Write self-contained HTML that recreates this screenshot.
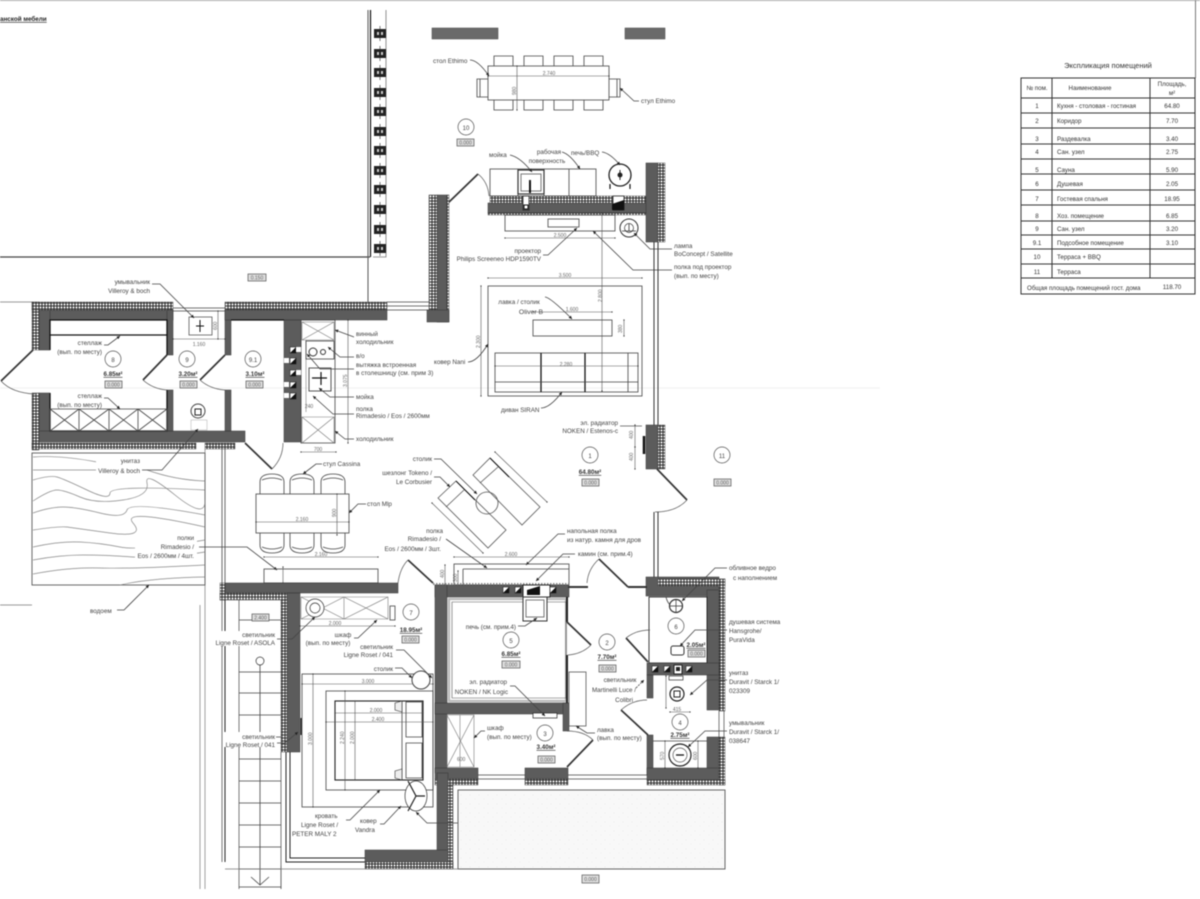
<!DOCTYPE html>
<html><head><meta charset="utf-8"><style>
html,body{margin:0;padding:0;background:#fff;width:1200px;height:899px;overflow:hidden}
svg{display:block;filter:blur(.5px)}
text{font-family:"Liberation Sans",sans-serif;font-size:6.300px;fill:#444}
.m{text-anchor:middle}.e{text-anchor:end}
.b{font-weight:bold;font-size:6.300px;text-decoration:underline;fill:#333}
.s{font-size:5px;fill:#666}
.tb{font-size:6.200px;fill:#333}
.w{fill:#5c5c5c;stroke:#333;stroke-width:.5}
.h{fill:url(#hatch);stroke:#333;stroke-width:.4}
.l{fill:none;stroke:#444;stroke-width:.8}
.x{fill:none;stroke:#777;stroke-width:.6}
.k{fill:none;stroke:#111;stroke-width:1.300}
.dr{fill:none;stroke:#333;stroke-width:1.700}
.a{fill:none;stroke:#555;stroke-width:.7}
.p{fill:none;stroke:#888;stroke-width:.7}
.le{fill:none;stroke:#444;stroke-width:.8;marker-end:url(#ar)}
.d{fill:none;stroke:#555;stroke-width:.6;marker-start:url(#tk);marker-end:url(#tk)}
.tag{fill:#ddd;stroke:#555;stroke-width:.7}
.c{fill:#fff;stroke:#555;stroke-width:.7}
</style></head><body>
<svg width="1200" height="899" viewBox="0 0 1200 899" xmlns="http://www.w3.org/2000/svg">
<defs>
<pattern id="hatch" width="3" height="3" patternUnits="userSpaceOnUse"><rect width="3" height="3" fill="#333"/><circle cx="1.500" cy="1.500" r="1.100" fill="#f2f2f2"/></pattern>
<pattern id="dots" width="9" height="9" patternUnits="userSpaceOnUse"><rect width="9" height="9" fill="#f8f8f8"/><circle cx="2" cy="3" r=".5" fill="#e4e4e4"/><circle cx="7" cy="7" r=".5" fill="#e8e8e8"/></pattern>
<marker id="ar" markerWidth="5" markerHeight="5" refX="4" refY="2" orient="auto"><path d="M0 0L4 2L0 4z" fill="#222"/></marker>
<marker id="tk" markerWidth="4" markerHeight="4" refX="2" refY="2"><circle cx="2" cy="2" r="1.100" fill="#333"/></marker>
<g id="blk"><rect x="374" y="0" width="12" height="9" fill="#222"/><rect x="377" y="3" width="2" height="3" fill="#ccc"/><rect x="381" y="3" width="2" height="3" fill="#ccc"/><path d="M380 -3V12" stroke="#222" stroke-width=".6"/></g>
<g id="sq"><rect width="6" height="6" fill="#fff" stroke="#222" stroke-width=".6"/><path d="M6 0V6H0z" fill="#111"/></g>
</defs>
<rect width="1200" height="899" fill="#fff"/>
<path d="M0 .5H1200" stroke="#aaa" stroke-width="1"/>
<path d="M1195.500 0V78" stroke="#777" stroke-width="1"/>
<path d="M0 388H880" stroke="#f0f0f0" stroke-width="1"/>
<text x="0" y="21" style="font-size:6.300px;font-weight:bold;text-decoration:underline;fill:#222">анской мебели</text>

<!-- top-left site -->
<path d="M0 257H370" stroke="#444" stroke-width="1.200"/>
<path d="M368 10V302" stroke="#555" stroke-width="1"/>
<path d="M370.500 10V257" stroke="#111" stroke-width="1.200"/>
<path d="M386 10V257H373" stroke="#777" stroke-width=".8" fill="none"/>
<use href="#blk" y="29"/><use href="#blk" y="49"/><use href="#blk" y="68"/><use href="#blk" y="88"/><use href="#blk" y="107"/><use href="#blk" y="127"/><use href="#blk" y="146"/><use href="#blk" y="166"/><use href="#blk" y="185"/><use href="#blk" y="205"/><use href="#blk" y="225"/><use href="#blk" y="244"/>
<path d="M0 302H32M0 605H32" stroke="#777" stroke-width=".8"/>
<rect class="tag" x="248" y="274" width="18" height="7"/><text class="s m" x="257" y="279.500">0.150</text>

<!-- outdoor rects -->
<rect x="432" y="28" width="66" height="11" fill="#6a6a6a" stroke="#444" stroke-width=".5"/>
<rect x="625" y="28" width="40" height="11" fill="#6a6a6a" stroke="#444" stroke-width=".5"/>

<!-- outdoor table -->
<rect x="488" y="66" width="121" height="34" class="l"/>
<path class="l" d="M494 66V56H513V66M524 66V56H543V66M554 66V56H573V66M584 66V56H603V66"/>
<path class="l" d="M494 100V110H513V100M524 100V110H543V100M554 100V110H573V100M584 100V110H603V100"/>
<path class="l" d="M488 79H477V97H488M609 79H620V97H609M480 79V97M617 79V97"/>
<path class="d" d="M488 76H609"/><text class="s m" x="549" y="75">2.740</text>
<path class="d" d="M517 66V110"/><text class="s" transform="translate(516,95) rotate(-90)">980</text>
<text x="433" y="63">стол Ethimo</text><path class="le" d="M470 60Q478 60 489 76"/>
<text x="641" y="103">стул Ethimo</text><path class="le" d="M639 101H634L620 88"/>
<circle class="c" cx="466" cy="127" r="8"/><text class="m" x="466" y="130" style="font-size:6px">10</text>
<rect class="tag" x="457" y="139" width="17" height="7"/><text class="s m" x="465.500" y="144.500">0.000</text>

<!-- terrace BBQ wall -->
<rect class="w" x="488" y="203" width="160" height="10"/>
<rect class="h" x="490" y="196" width="156" height="7"/>
<rect class="h" x="488" y="213" width="160" height="2"/>
<rect class="w" x="646" y="163" width="12" height="79"/>
<rect class="h" x="658" y="163" width="7" height="79"/>
<rect x="490" y="169" width="106" height="27" class="l"/>
<path class="l" d="M518 169V196M544 169V196M569 169V196"/>
<rect x="518" y="170" width="26" height="24" fill="#fff" stroke="#333" stroke-width="1.200"/>
<rect x="521" y="174" width="20" height="17" fill="#fff" stroke="#777" stroke-width="1"/>
<path d="M530 180V193" stroke="#111" stroke-width="2"/><circle cx="530" cy="181" r="1" fill="#222"/>
<rect x="523" y="196" width="6" height="14" fill="#fff" stroke="#111" stroke-width=".7"/><rect x="524" y="205" width="4" height="4" fill="#fff" stroke="#111"/>
<rect x="613" y="196" width="11" height="14" fill="#fff" stroke="#111" stroke-width=".7"/><path d="M612 210V204L624 200V210z" fill="#111"/>
<circle cx="620" cy="175" r="11" fill="#fff" stroke="#222" stroke-width="1.300"/><circle cx="620" cy="175" r="2.500" fill="#222"/><path d="M620 170V180" stroke="#222"/>
<path d="M610 184V189M630 184V189" stroke="#111" stroke-width="1.200"/>
<path class="dr" d="M448 203L478 174"/><path class="a" d="M478 174Q488 182 489 196"/>
<rect class="w" x="437" y="195" width="10" height="127"/>
<rect class="h" x="429" y="195" width="8" height="115"/>
<rect class="h" x="447" y="195" width="2" height="127"/>
<rect class="w" x="427" y="310" width="22" height="12"/>
<path d="M387 302H430M387 306H430M387 310H430" stroke="#444" stroke-width=".7"/>

<!-- shelf and lamp -->
<rect class="l" x="505" y="215" width="110" height="16"/>
<rect class="l" x="548" y="219" width="31" height="8"/>
<path class="d" d="M505 238H615"/><text class="s m" x="560" y="237">2.500</text>
<circle cx="629" cy="228" r="9" fill="#fff" stroke="#333"/><circle cx="629" cy="228" r="4.500" fill="none" stroke="#333" stroke-width=".7"/><path d="M622 231H636M629 224V231" stroke="#333" stroke-width=".8"/>
<text x="489" y="157">мойка</text><path class="le" d="M510 155Q520 157 532 172"/>
<text class="m" x="549" y="154">рабочая</text><text class="m" x="547" y="163">поверхность</text><path class="le" d="M562 152Q570 154 580 169"/>
<text x="571" y="155">печь/BBQ</text><path class="le" d="M602 152Q610 153 620 165"/>
<text class="e" x="541" y="253">проектор</text><text class="e" x="541" y="261">Philips Screeneo HDP1590TV</text><path class="le" d="M543 255H548L577 228"/>
<text x="674" y="248">лампа</text><text x="674" y="256">BoConcept / Satellite</text><path class="le" d="M672 249H650L634 233"/>
<text x="674" y="269">полка под проектор</text><text x="674" y="278">(вып. по месту)</text><path class="le" d="M672 270H633L593 231"/>

<!-- long dim + window -->
<path class="d" d="M602 213V391"/><text class="s" transform="translate(602,302) rotate(-90)">2.800</text>
<path d="M654 242V425M658 242V425" stroke="#333" stroke-width="1"/>

<!-- rug + sofa -->
<rect class="l" x="488" y="286" width="154" height="110"/>
<path class="d" d="M488 278H642"/><text class="s m" x="565" y="277">3.500</text>
<path class="d" d="M481 286V396"/><text class="s" transform="translate(480,348) rotate(-90)">2.300</text>
<rect class="l" x="533" y="320" width="79" height="16"/>
<path class="d" d="M533 312H612"/><text class="s m" x="572" y="311">1.600</text>
<path class="d" d="M624 320V336"/><text class="s" transform="translate(622,333) rotate(-90)">380</text>
<rect class="l" x="495" y="353" width="143" height="39"/>
<path class="k" d="M541 353V392M585 353V392"/>
<path class="l" d="M495 382H638M628 353V392"/>
<path class="d" d="M495 366H638"/><text class="s m" x="566" y="366">2.280</text>
<text class="m" x="519" y="304">лавка / столик</text><text class="m" x="531" y="314" style="font-size:6.800px">Oliver B</text><path class="le" d="M545 297Q550 297 572 319"/>
<text x="434" y="364">ковер Nani</text><path class="le" d="M468 362Q477 362 488 344"/>
<text x="501" y="412">диван SIRAN</text><path class="le" d="M541 408Q550 408 562 392"/>
<text class="e" x="618" y="425">эл. радиатор</text><text class="e" x="618" y="433">NOKEN / Estenos-c</text><path class="a" d="M620 426H642"/>

<!-- east block, door -->
<rect class="w" x="646" y="425" width="12" height="44"/>
<rect class="h" x="658" y="425" width="7" height="44"/>
<path d="M644 436V454" stroke="#111" stroke-width="2.500"/>
<path class="d" d="M635 425V447"/><path class="d" d="M635 447V469"/>
<text class="s" transform="translate(633,439) rotate(-90)">400</text><text class="s" transform="translate(633,461) rotate(-90)">400</text>
<path class="dr" d="M657 469L687 500"/><path class="a" d="M687 500Q676 512 655 512"/>
<path d="M654 512V578M658 512V578" stroke="#333" stroke-width="1"/>
<circle class="c" cx="590" cy="455" r="8"/><text class="m" x="590" y="458" style="font-size:6px">1</text>
<text class="b m" x="590" y="474">64.80м²</text>
<rect class="tag" x="582" y="479" width="17" height="7"/><text class="s m" x="590.500" y="484.500">0.000</text>
<circle class="c" cx="722" cy="455" r="8"/><text class="m" x="722" y="458" style="font-size:6px">11</text>
<rect class="tag" x="714" y="479" width="17" height="7"/><text class="s m" x="722.500" y="484.500">0.000</text>

<!-- north-west rooms -->
<rect class="w" x="39" y="310" width="134" height="10"/>
<rect class="w" x="39" y="310" width="11" height="40"/>
<rect class="h" x="32" y="302" width="7" height="48"/>
<rect class="h" x="32" y="302" width="141" height="8"/>
<rect class="w" x="39" y="393" width="11" height="47"/>
<rect class="h" x="32" y="393" width="7" height="57"/>
<rect class="w" x="39" y="431" width="206" height="11"/>
<rect class="h" x="32" y="443" width="164" height="6"/>
<rect class="h" x="205" y="443" width="30" height="6"/>
<rect class="w" x="167" y="310" width="6" height="45"/>
<rect class="w" x="167" y="390" width="6" height="41"/>
<rect class="w" x="225" y="310" width="6" height="45"/>
<rect class="w" x="225" y="390" width="6" height="41"/>
<rect class="h" x="225" y="302" width="162" height="8"/>
<rect class="w" x="225" y="310" width="162" height="10"/>
<rect class="w" x="284" y="320" width="17" height="122"/>
<path class="k" d="M50 350V320H167V355M167 390V431H50V393M231 320H284"/>
<path class="k" d="M50 335H167"/>
<path d="M173 308H225M173 311H225" stroke="#444" stroke-width=".7"/>
<path class="l" d="M50 409H167V431H50zM79 409V431M109 409V431M138 409V431M50 409L79 431M79 409L50 431M79 409L109 431M109 409L79 431M109 409L138 431M138 409L109 431M138 409L167 431M167 409L138 431"/>
<path class="dr" d="M33 350L1 381"/><path class="a" d="M1 381Q12 393 35 394"/>
<path class="dr" d="M167 355L143 380"/><path class="a" d="M143 380Q153 389 167 390"/>
<path class="dr" d="M225 355L200 380"/><path class="a" d="M200 380Q210 389 225 390"/>
<path class="dr" d="M245 443L272 469"/><path class="a" d="M272 469Q283 458 283 443"/>
<rect x="189" y="317" width="23" height="18" fill="#fff" stroke="#444" stroke-width=".7"/><path d="M200 320V332M196 326H204" stroke="#111" stroke-width="1"/>
<path class="d" d="M173 339H225"/><text class="s m" x="199" y="346">1.160</text>
<path class="d" d="M218 311V339"/><text class="s" transform="translate(217,330) rotate(-90)">600</text>
<circle cx="198" cy="411" r="7" fill="#fff" stroke="#444"/><rect x="195" y="409" width="6" height="6" fill="#fff" stroke="#222"/><rect x="191" y="420" width="16" height="10" fill="#fff" stroke="#aaa" stroke-width=".5"/>
<circle class="c" cx="113" cy="359" r="8"/><text class="m" x="113" y="362" style="font-size:6px">8</text>
<text class="b m" x="113" y="376">6.85м²</text><rect class="tag" x="105" y="381" width="17" height="7"/><text class="s m" x="113.500" y="386.500">0.000</text>
<circle class="c" cx="187" cy="359" r="8"/><text class="m" x="187" y="362" style="font-size:6px">9</text>
<text class="b m" x="188" y="376">3.20м²</text><rect class="tag" x="180" y="381" width="17" height="7"/><text class="s m" x="188.500" y="386.500">0.000</text>
<circle class="c" cx="253" cy="359" r="8"/><text class="m" x="253" y="362" style="font-size:6px">9.1</text>
<text class="b m" x="255" y="376">3.10м²</text><rect class="tag" x="246" y="381" width="17" height="7"/><text class="s m" x="254.500" y="386.500">0.000</text>
<text class="e" x="102" y="345">стеллаж</text><text class="e" x="102" y="354">(вып. по месту)</text><path class="le" d="M104 345H108L120 336"/>
<text class="e" x="102" y="398">стеллаж</text><text class="e" x="102" y="407">(вып. по месту)</text><path class="le" d="M104 398H108L120 409"/>
<text class="e" x="150" y="284">умывальник</text><text class="e" x="150" y="293">Villeroy &amp; boch</text><path class="le" d="M152 284H160L194 318"/>

<!-- kitchen -->
<rect class="l" x="301" y="320" width="34" height="123"/>
<path class="x" d="M302 322H334V340H302zM302 322L334 340M334 322L302 340"/>
<path class="x" d="M302 417H334V443H302zM302 417L334 443M334 417L302 443"/>
<path class="x" d="M306 340V412"/>
<rect class="l" x="306" y="341" width="28" height="18"/><circle cx="313" cy="352" r="4" fill="#fff" stroke="#333"/><circle cx="323" cy="352" r="2.500" fill="#fff" stroke="#333"/>
<rect x="309" y="368" width="22" height="23" fill="#fff" stroke="#555"/><path d="M312 378H327M321 372V385" stroke="#111" stroke-width="1.200"/>
<use href="#sq" x="290" y="347"/><use href="#sq" x="290" y="358"/><use href="#sq" x="290" y="370"/><use href="#sq" x="290" y="382"/><use href="#sq" x="290" y="393"/>
<rect x="284" y="358" width="5" height="5" fill="#fff"/><rect x="284" y="382" width="5" height="5" fill="#fff"/><rect x="284" y="393" width="5" height="5" fill="#fff"/><rect x="296" y="347" width="5" height="5" fill="#fff"/><rect x="296" y="370" width="5" height="5" fill="#fff"/>
<path class="d" d="M348 320V443"/><text class="s" transform="translate(347,387) rotate(-90)">3.075</text>
<path class="d" d="M301 452H336"/><text class="s m" x="318" y="451">700</text>
<text class="s m" x="309" y="408">240</text>
<text x="356" y="336">винный</text><text x="356" y="344">холодильник</text><path class="le" d="M354 337L335 330"/>
<text x="356" y="358">в/о</text><path class="le" d="M354 357H340L328 347"/>
<text x="356" y="367">вытяжка встроенная</text><text x="356" y="375">в столешницу (см. прим 3)</text><path class="le" d="M354 369H320L307 354"/>
<text x="356" y="399">мойка</text><path class="le" d="M354 397H330L319 388"/>
<text x="356" y="411">полка</text><text x="356" y="418">Rimadesio / Eos / 2600мм</text><path class="le" d="M354 414H333L313 396"/>
<text x="356" y="441">холодильник</text><path class="le" d="M354 439H345L335 431"/>

<!-- pool -->
<rect x="32" y="453" width="173" height="132" fill="#fff" stroke="#444" stroke-width=".8"/>
<path class="p" d="M33 457Q60 455 97 462"/>
<path class="p" d="M33 470H97"/>
<path class="p" d="M147 470Q175 480 205 481"/>
<path class="p" d="M33 480Q50 475 57 477T87 490T110 493T205 490"/>
<path class="p" d="M33 501Q50 490 57 490T80 497T123 500T147 483T175 495T205 500"/>
<path class="p" d="M33 513Q50 507 63 507T100 513T127 510T205 515"/>
<path class="p" d="M33 530Q60 526 67 527T110 533T133 523T205 527"/>
<path class="p" d="M33 547Q60 541 80 542T120 547T205 540"/>
<path class="p" d="M33 560Q60 555 83 555T133 557T205 552"/>
<path class="p" d="M33 574Q70 567 100 568T205 565"/>
<path class="p" d="M120 585Q150 578 205 577"/>
<text x="90" y="613">водоем</text><path class="le" d="M117 610H124L149 585"/>
<path d="M205 449V889M200 605V889" stroke="#666" stroke-width=".6"/>
<path class="l" d="M222 449V583M225 449V583"/>
<rect x="96" y="456" width="46" height="19" fill="#fff"/>
<text class="e" x="140" y="463">унитаз</text><text class="e" x="140" y="473">Villeroy &amp; boch</text><path class="le" d="M142 470H162L198 429"/>
<rect x="135" y="533" width="62" height="26" fill="#fff"/>
<text class="e" x="194" y="540">полки</text><text class="e" x="194" y="549">Rimadesio /</text><text class="e" x="194" y="558">Eos / 2600мм / 4шт.</text>
<path class="le" d="M199 547H247L277 570"/>
<text x="323" y="466">стул Cassina</text><path class="le" d="M322 464H316L303 474"/>
<text x="367" y="506">стол Mlp</text><path class="le" d="M366 504H358L349 513"/>

<!-- dining -->
<g fill="#fff" stroke="#444" stroke-width=".8">
<path d="M260 494V482Q260 474 272 474T284 482V494"/><path d="M290 494V482Q290 474 302 474T314 482V494"/><path d="M321 494V482Q321 474 333 474T345 482V494"/>
<path d="M260 533V545Q260 553 272 553T284 545V533"/><path d="M290 533V545Q290 553 302 553T314 545V533"/><path d="M321 533V545Q321 553 333 553T345 545V533"/>
<path d="M262 480Q272 476 282 480M292 480Q302 476 312 480M323 480Q333 476 343 480M262 547Q272 551 282 547M292 547Q302 551 312 547M323 547Q333 551 343 547" fill="none"/>
<rect x="256" y="494" width="93" height="39"/>
</g>
<path class="d" d="M256 522H349"/><text class="s m" x="302" y="521">2.160</text>
<path class="d" d="M337 494V535"/><text class="s" transform="translate(336,517) rotate(-90)">900</text>
<path class="d" d="M264 557H378"/><text class="s m" x="321" y="556">2.160</text>
<rect class="l" x="264" y="569" width="114" height="14"/>
<path class="d" d="M283 567V583"/>

<!-- chaises -->
<g fill="#fff" stroke="#555" stroke-width=".8">
<path d="M473 475L490 458L540 507L522 525z"/><path d="M480 483L498 467" fill="none"/>
<path d="M438 498L456 481L506 530L488 548z"/><path d="M446 507L464 490" fill="none"/>
<circle cx="487" cy="503" r="11" fill="none"/>
</g>
<path d="M490 458L509 477M456 481L475 500" stroke="#111" stroke-width="1"/>
<path class="d" d="M495 452L547 502"/><path class="d" d="M432 503L483 553"/>
<text class="e" x="432" y="461">столик</text><path class="le" d="M434 459H441L477 494"/>
<text class="e" x="432" y="475">шезлонг Tokeno /</text><text class="e" x="432" y="484">Le Corbusier</text><path class="le" d="M434 477H440L450 487"/>
<text class="e" x="443" y="533">полка</text><text class="e" x="441" y="541">Rimadesio /</text><text class="e" x="441" y="551">Eos / 2600мм / 3шт.</text><path class="le" d="M446 539L487 568"/>
<text x="567" y="533">напольная полка</text><text x="567" y="542">из натур. камня для дров</text><path class="le" d="M565 534H558L526 565"/>
<text x="578" y="556">камин (см. прим.4)</text><path class="le" d="M575 554H563L536 581"/>

<!-- shelf above sauna -->
<rect class="l" x="454" y="564" width="115" height="21"/>
<path class="l" d="M463 569H569M463 569V585"/>
<path class="d" d="M454 557H569"/><text class="s m" x="511" y="556">2.600</text>
<path class="d" d="M445 565V584"/><text class="s" transform="translate(444,578) rotate(-90)">400</text>
<path class="d" d="M458 571V584"/><text class="s" transform="translate(457,582) rotate(-90)">300</text>

<!-- sauna + room 3 walls -->
<rect class="w" x="435" y="585" width="134" height="12"/>
<rect class="w" x="435" y="585" width="12" height="188"/>
<rect class="w" x="435" y="703" width="134" height="11"/>
<rect class="w" x="563" y="703" width="6" height="28"/>
<rect class="w" x="435" y="768" width="43" height="11"/>
<path fill="none" stroke="#bbb" stroke-width="2.200" d="M449 599H566V701H449z"/>
<path fill="none" stroke="#555" stroke-width=".6" d="M452 602H566V698H452z"/>
<path d="M433 584H569" stroke="#888" stroke-dasharray="1.500 1.500" stroke-width="2"/>
<path d="M567 597V622M567 655V703" stroke="#222" stroke-width="2"/>
<use href="#sq" x="503" y="587"/><use href="#sq" x="515" y="587"/><rect x="523" y="585" width="27" height="12" fill="#fff" stroke="#222"/><path d="M527 595V590L540 586V595z" fill="#111"/><use href="#sq" x="550" y="587"/>
<rect x="523" y="597" width="24" height="24" fill="#fff" stroke="#333" stroke-width="1"/><rect x="526" y="600" width="18" height="17" fill="#fff" stroke="#777"/>
<rect class="h" x="435" y="779" width="43" height="6"/>
<rect class="w" x="525" y="768" width="43" height="11"/><rect class="h" x="525" y="779" width="43" height="6"/>
<path d="M478 775H525M478 779H525M568 775H647M568 779H647" stroke="#444" stroke-width=".7"/>
<path class="dr" d="M567 622L591 645"/><path class="a" d="M591 645Q582 654 568 655"/>
<path class="dr" d="M567 767L593 740"/><path class="a" d="M593 740Q584 731 567 731"/>
<rect x="569" y="672" width="17" height="54" fill="#fff" stroke="#555" stroke-width=".8"/>
<rect x="533" y="713" width="24" height="5" fill="#fff" stroke="#222" stroke-width=".7"/>
<path class="x" d="M447 715H474V767H447zM447 715L474 767M474 715L447 767M460 715V767"/>
<text class="s" x="457" y="761">600</text>
<circle class="c" cx="511" cy="640" r="8"/><text class="m" x="511" y="643" style="font-size:6px">5</text>
<text class="b m" x="511" y="656">6.85м²</text><rect class="tag" x="502" y="661" width="18" height="7"/><text class="s m" x="511" y="666.500">0.000</text>
<circle class="c" cx="545" cy="733" r="8"/><text class="m" x="545" y="736" style="font-size:6px">3</text>
<text class="b m" x="546" y="749">3.40м²</text><rect class="tag" x="538" y="756" width="17" height="7"/><text class="s m" x="546.500" y="761.500">0.000</text>
<circle class="c" cx="607" cy="642" r="8"/><text class="m" x="607" y="645" style="font-size:6px">2</text>
<text class="b m" x="607" y="659">7.70м²</text><rect class="tag" x="599" y="665" width="17" height="7"/><text class="s m" x="607.500" y="670.500">0.000</text>
<text class="e" x="516" y="629">печь (см. прим.4)</text><path class="le" d="M518 626H525L537 618"/>
<text class="e" x="507" y="684">эл. радиатор</text><text class="e" x="508" y="694">NOKEN / NK Logic</text><path class="le" d="M510 686H515L545 716"/>
<text x="487" y="730">шкаф</text><text x="487" y="739">(вып. по месту)</text><path class="le" d="M485 731H481L474 738"/>
<text x="597" y="732">лавка</text><text x="597" y="740">(вып. по месту)</text><path class="le" d="M595 733H587L576 726"/>
<text class="m" x="620" y="682">светильник</text><text class="m" x="614" y="692">Martinelli Luce /</text><text class="e" x="633" y="702">Colibri</text><path class="le" d="M636 688L644 680" stroke-dasharray="2 1"/>

<!-- SE bathrooms -->
<rect class="w" x="646" y="577" width="73" height="19"/>
<rect class="h" x="658" y="579" width="67" height="7"/>
<rect class="h" x="719" y="579" width="6" height="132"/>
<rect class="w" x="707" y="590" width="12" height="120"/>
<rect x="649" y="597" width="58" height="66" fill="#fff" stroke="#111" stroke-width=".8"/>
<rect class="w" x="647" y="663" width="72" height="12"/>
<rect class="w" x="647" y="675" width="6" height="23"/>
<rect class="w" x="647" y="735" width="6" height="40"/>
<rect class="w" x="707" y="737" width="12" height="42"/>
<rect class="w" x="647" y="768" width="72" height="12"/>
<rect class="h" x="719" y="737" width="6" height="48"/>
<rect class="h" x="647" y="780" width="78" height="5"/>
<path d="M719 711V737M724 711V737" stroke="#444" stroke-width=".7"/>
<path d="M666 597Q668 606 676 608" class="l"/><circle cx="676" cy="606" r="6.500" fill="#fff" stroke="#333" stroke-width="1.200"/><path d="M669 606H683M676 599V613" stroke="#333" stroke-width=".7"/>
<circle class="c" cx="676" cy="626" r="8"/><text class="m" x="676" y="629" style="font-size:6px">6</text>
<rect x="671" y="646" width="13" height="9" rx="2" fill="#fff" stroke="#333"/>
<text class="b m" x="696" y="647">2.05м²</text><rect class="tag" x="688" y="650" width="17" height="7"/><text class="s m" x="696.500" y="655.500">0.000</text>
<use href="#sq" x="652" y="666"/><use href="#sq" x="664" y="666"/><rect x="674" y="665" width="8" height="9" fill="#fff" stroke="#222"/><rect x="676" y="667" width="4" height="4" fill="#222"/><use href="#sq" x="686" y="666"/>
<rect x="669" y="676" width="14" height="4" fill="#fff" stroke="#333" stroke-width=".7"/>
<circle cx="677" cy="694" r="7" fill="#fff" stroke="#222" stroke-width="1.200"/><rect x="674" y="691" width="6" height="6" fill="#fff" stroke="#222"/>
<path class="d" d="M670 712H690"/><text class="s m" x="677" y="711">415</text><path class="d" d="M666 676V708"/>
<circle class="c" cx="680" cy="722" r="8"/><text class="m" x="680" y="725" style="font-size:6px">4</text>
<text class="b m" x="680" y="737">2.75м²</text>
<path class="l" d="M653 741H707"/>
<circle cx="680" cy="755" r="11" fill="#fff" stroke="#222" stroke-width="1.200"/><circle cx="680" cy="755" r="7" fill="none" stroke="#555" stroke-width=".7"/><path d="M676 755H684" stroke="#111" stroke-width="1.300"/>
<path class="d" d="M665 741V768"/><path class="d" d="M698 741V768"/>
<text class="s" transform="translate(664,760) rotate(-90)">570</text><text class="s" transform="translate(697,760) rotate(-90)">600</text>
<path class="dr" d="M648 662L626 638"/><path class="a" d="M626 638Q636 630 650 630"/>
<path class="dr" d="M648 735L621 710"/><path class="a" d="M621 710Q632 700 647 700"/>
<path d="M568 587H588M628 587H647" stroke="#333" stroke-width="2"/>
<path class="dr" d="M628 587L599 559"/><path class="a" d="M599 559Q588 569 587 583"/>
<text x="729" y="570">обливное ведро</text><text x="733" y="580">с наполнением</text><path class="le" d="M727 568H715L682 601"/>
<text x="729" y="624">душевая система</text><text x="729" y="633">Hansgrohe/</text><text x="729" y="642">PuraVida</text><path class="le" d="M727 630H695L680 646"/>
<text x="729" y="675">унитаз</text><text x="729" y="684">Duravit / Starck 1/</text><text x="729" y="693">023309</text><path class="le" d="M727 680H707L690 695"/>
<text x="729" y="725">умывальник</text><text x="729" y="734">Duravit / Starck 1/</text><text x="729" y="743">038647</text><path class="le" d="M727 731H705L688 747"/>

<!-- corridor door to room 7 -->
<path class="dr" d="M433 583L408 560"/><path class="a" d="M408 560Q400 568 398 583"/>

<!-- bedroom -->
<rect class="w" x="225" y="583" width="173" height="10"/>
<rect class="h" x="220" y="583" width="5" height="17"/>
<rect class="h" x="220" y="593" width="67" height="7"/>
<rect class="w" x="287" y="593" width="13" height="159"/>
<rect class="h" x="281" y="600" width="6" height="152"/>
<rect class="w" x="437" y="773" width="11" height="89"/>
<rect class="h" x="448" y="785" width="5" height="84"/>
<rect class="w" x="365" y="850" width="83" height="12"/>
<rect class="h" x="365" y="862" width="88" height="7"/>
<path d="M301 718V735" stroke="#111" stroke-width="1"/>
<path d="M286 752V862H365M290 752V858H365" fill="none" stroke="#222" stroke-width="1"/>
<path d="M225 600V862" stroke="#222" stroke-width="1"/><path d="M222 600V862" stroke="#555" stroke-width=".8"/><path d="M239 600V889M281 752V866" stroke="#444" stroke-width=".7"/>
<path class="l" d="M239 620H281"/>
<path class="l" d="M239 672H281M239 693H281M239 715H281M239 737H281M239 759H281M239 781H281M239 803H281M239 825H281M239 847H281M239 869H281M239 887H281M281 866V889"/>
<path class="l" d="M260 665V885M251 877L260 885L269 877"/><circle cx="260" cy="661" r="4" fill="#fff" stroke="#333" stroke-width=".7"/>
<rect x="252" y="614" width="17" height="7" class="tag"/><text class="s m" x="260.500" y="619.500">2.400</text>
<path class="x" d="M301 597H388V619H301zM344 597V619M301 597L344 619M344 597L301 619M344 597L388 619M388 597L344 619"/>
<circle cx="315" cy="608" r="9" fill="#fff" stroke="#333" stroke-width=".7"/><circle cx="315" cy="608" r="5" fill="none" stroke="#333" stroke-width=".7"/>
<rect x="390" y="606" width="5" height="14" class="l"/>
<path class="d" d="M300 626H395"/><text class="s m" x="335" y="625">2.000</text>
<circle class="c" cx="411" cy="612" r="8"/><text class="m" x="411" y="615" style="font-size:6px">7</text>
<text class="b m" x="411" y="632">18.95м²</text><rect class="tag" x="402" y="636" width="17" height="7"/><text class="s m" x="410.500" y="641.500">0.000</text>
<rect class="l" x="302" y="674" width="131" height="133"/>
<path class="d" d="M302 684H433"/><text class="s m" x="368" y="683">3.000</text>
<path class="d" d="M313 674V807"/><text class="s" transform="translate(312,745) rotate(-90)">3.000</text>
<rect class="l" x="326" y="691" width="107" height="99"/>
<rect x="335" y="701" width="88" height="79" fill="#fff" stroke="#222" stroke-width="1.100"/>
<path class="l" d="M402 701V780M406 702H422V737H406zM406 743H422V778H406z"/>
<path d="M395 703V710L402 712V701zM395 778V771L402 769V780z" fill="#eee" stroke="#333" stroke-width=".6"/>
<path class="d" d="M335 713H423"/><text class="s m" x="376" y="712">2.000</text>
<path class="d" d="M326 722H433"/><text class="s m" x="378" y="721">2.400</text>
<path class="d" d="M345 691V790"/><path class="d" d="M355 701V780"/>
<text class="s" transform="translate(344,744) rotate(-90)">2.240</text><text class="s" transform="translate(354,744) rotate(-90)">2.000</text>
<circle cx="421" cy="680" r="9" fill="#fff" stroke="#444"/>
<ellipse cx="416" cy="796" rx="11" ry="15" fill="#fff" stroke="#333" stroke-width=".7"/><path d="M408 781L416 796H425M416 796L408 811" fill="none" stroke="#222" stroke-width="1.200"/>
<rect x="212" y="631" width="64" height="15" fill="#fff"/>
<text class="e" x="275" y="637">светильник</text><text class="e" x="275" y="645">Ligne Roset / ASOLA</text><path class="le" d="M277 639H292L315 617"/>
<text class="m" x="343" y="637">шкаф</text><text class="m" x="328" y="645">(вып. по месту)</text><path class="le" d="M354 638H358L377 620"/>
<text class="e" x="393" y="649">светильник</text><text class="e" x="393" y="657">Ligne Roset / 041</text><path class="le" d="M396 650H404L432 678"/>
<text class="e" x="393" y="671">столик</text><path class="le" d="M395 668H402L412 678"/>
<rect x="223" y="732" width="53" height="15" fill="#fff"/>
<text class="e" x="275" y="739">светильник</text><text class="e" x="275" y="747">Ligne Roset / 041</text><path class="le" d="M277 743H285L298 732"/>
<text x="315" y="818">кровать</text><text x="301" y="827">Ligne Roset /</text><text x="292" y="836">PETER MALY 2</text><path class="le" d="M346 820H350L380 790"/>
<text x="360" y="823">ковер</text><text x="355" y="832">Vandra</text><path class="le" d="M380 824H384L401 806"/>
<text x="466" y="820">светильник</text><text x="466" y="829">Ligne Roset / SOLVEIG</text><path class="le" d="M464 823H427L416 812"/>

<!-- south terrace -->
<rect x="458" y="790" width="267" height="79" fill="url(#dots)" stroke="#666" stroke-width="1"/>
<path d="M225 869H458" stroke="#777" stroke-width=".7"/>
<rect class="tag" x="582" y="875" width="17" height="8"/><text class="s m" x="590.500" y="881">0.000</text>

<!-- table -->
<text class="m" x="1108" y="68" style="font-size:7.500px;fill:#333">Экспликация помещений</text>
<g fill="none" stroke="#333" stroke-width="1">
<rect x="1021" y="78" width="174" height="216"/>
<path d="M1021 98H1195M1021 113H1195M1021 128H1195M1021 144H1195M1021 159H1195M1021 174H1195M1021 190H1195M1021 205H1195M1021 221H1195M1021 235H1195M1021 249H1195M1021 264H1195M1021 278H1195"/>
<path d="M1052 78V278M1150 78V278"/>
</g>
<text class="tb m" x="1037" y="90">№ пом.</text><text class="tb m" x="1090" y="90">Наименование</text><text class="tb m" x="1172" y="86">Площадь,</text><text class="tb m" x="1172" y="95">м²</text>
<text class="tb m" x="1037" y="108">1</text><text class="tb" x="1057" y="108">Кухня - столовая - гостиная</text><text class="tb m" x="1172" y="108">64.80</text>
<text class="tb m" x="1037" y="123">2</text><text class="tb" x="1057" y="123">Коридор</text><text class="tb m" x="1172" y="123">7.70</text>
<text class="tb m" x="1037" y="141">3</text><text class="tb" x="1057" y="141">Раздевалка</text><text class="tb m" x="1172" y="141">3.40</text>
<text class="tb m" x="1037" y="154">4</text><text class="tb" x="1057" y="154">Сан. узел</text><text class="tb m" x="1172" y="154">2.75</text>
<text class="tb m" x="1037" y="172">5</text><text class="tb" x="1057" y="172">Сауна</text><text class="tb m" x="1172" y="172">5.90</text>
<text class="tb m" x="1037" y="186">6</text><text class="tb" x="1057" y="186">Душевая</text><text class="tb m" x="1172" y="186">2.05</text>
<text class="tb m" x="1037" y="201">7</text><text class="tb" x="1057" y="201">Гостевая спальня</text><text class="tb m" x="1172" y="201">18.95</text>
<text class="tb m" x="1037" y="218">8</text><text class="tb" x="1057" y="218">Хоз. помещение</text><text class="tb m" x="1172" y="218">6.85</text>
<text class="tb m" x="1037" y="231">9</text><text class="tb" x="1057" y="231">Сан. узел</text><text class="tb m" x="1172" y="231">3.20</text>
<text class="tb m" x="1037" y="245">9.1</text><text class="tb" x="1057" y="245">Подсобное помещение</text><text class="tb m" x="1172" y="245">3.10</text>
<text class="tb m" x="1037" y="259">10</text><text class="tb" x="1057" y="259">Терраса + BBQ</text>
<text class="tb m" x="1037" y="274">11</text><text class="tb" x="1057" y="274">Терраса</text>
<text class="tb" x="1027" y="290">Общая площадь помещений гост. дома</text><text class="tb m" x="1172" y="289">118.70</text>
</svg>
</body></html>
